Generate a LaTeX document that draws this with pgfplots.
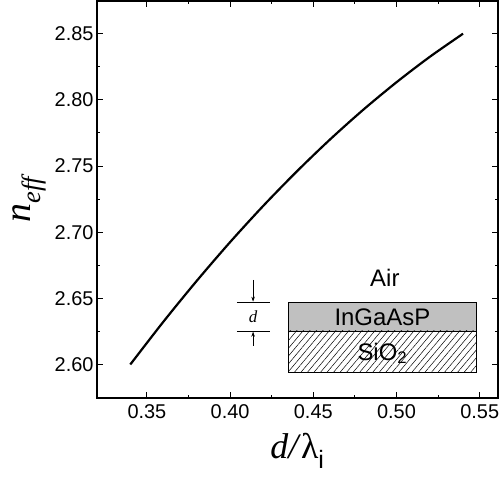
\documentclass[border=0pt]{standalone}
\usepackage{pgfplots}
\pgfplotsset{compat=1.18}
\usepackage{fontspec}
\setmainfont{Liberation Sans}
\newfontfamily\serif{Liberation Serif}
\newfontfamily\sans{Liberation Sans}
\usetikzlibrary{patterns.meta,arrows.meta,calc}
\begin{document}
\begin{tikzpicture}
\begin{axis}[
  scale only axis, width=401bp, height=397bp,
  xmin=0.32, xmax=0.561, ymin=2.5747, ymax=2.8747,
  xtick={0.35,0.40,0.45,0.50,0.55},
  ytick={2.60,2.65,2.70,2.75,2.80,2.85},
  minor x tick num=1, minor y tick num=1,
  tick align=inside, tick pos=both,
  major tick length=6bp, minor tick length=3.5bp,
  axis line style={line width=1.2bp},
  every tick/.style={line width=1bp, black},
  /pgf/number format/assume math mode=true,
  xticklabel style={/pgf/number format/fixed, /pgf/number format/fixed zerofill, /pgf/number format/precision=2, font=\fontsize{20}{22}\selectfont, yshift=-3bp},
  yticklabel style={/pgf/number format/fixed, /pgf/number format/fixed zerofill, /pgf/number format/precision=2, font=\fontsize{20}{22}\selectfont},
  xlabel={\serif\fontsize{36}{40}\selectfont\textit{d/}λ\textsubscript{\sans i}},
  xlabel style={yshift=-8bp},
  ylabel={\serif\itshape\fontsize{38}{42}\selectfont n\textsubscript{eff}},
  ylabel style={yshift=2bp},
  clip=false,
]
\addplot[black, line width=2.2bp, smooth] coordinates {
  (0.340,2.6000) (0.360,2.6325) (0.380,2.6633) (0.400,2.6925) (0.420,2.7200)
  (0.440,2.7458) (0.460,2.7700) (0.480,2.7925) (0.500,2.8133) (0.520,2.8325)
  (0.540,2.8500)
};
\draw[line width=0.8bp, fill={rgb,255:red,192;green,192;blue,192}] (axis cs:0.435,2.6254) rectangle (axis cs:0.548,2.6469);
\draw[line width=0.8bp, pattern={Lines[angle=50,distance=5bp,line width=0.5bp]}] (axis cs:0.435,2.5939) rectangle (axis cs:0.548,2.6254);
\node[font=\fontsize{24}{28}\selectfont] at (axis cs:0.4915,2.6360) {InGaAsP};
\node[font=\fontsize{24}{28}\selectfont] at (axis cs:0.4915,2.6085) {SiO\textsubscript{2}};
\node[font=\fontsize{24}{28}\selectfont] at (axis cs:0.493,2.6653) {Air};
\draw[line width=0.6bp] (axis cs:0.404,2.6469) -- (axis cs:0.424,2.6469);
\draw[line width=0.6bp] (axis cs:0.404,2.6254) -- (axis cs:0.424,2.6254);
\draw[line width=0.6bp, -{Stealth[length=5bp,width=3.5bp]}] (axis cs:0.4138,2.6640) -- (axis cs:0.4138,2.6475);
\draw[line width=0.6bp, -{Stealth[length=5bp,width=3.5bp]}] (axis cs:0.4138,2.6140) -- (axis cs:0.4138,2.6248);
\node[font=\serif\itshape\fontsize{17}{20}\selectfont] at (axis cs:0.4138,2.6362) {d};
\coordinate (SW) at (rel axis cs:0,0);
\coordinate (NE) at (rel axis cs:1,1);
\end{axis}
\pgfresetboundingbox
\path[use as bounding box] ($(SW)+(-97bp,-84bp)$) rectangle ($(NE)+(1bp,1bp)$);
\end{tikzpicture}
\end{document}
